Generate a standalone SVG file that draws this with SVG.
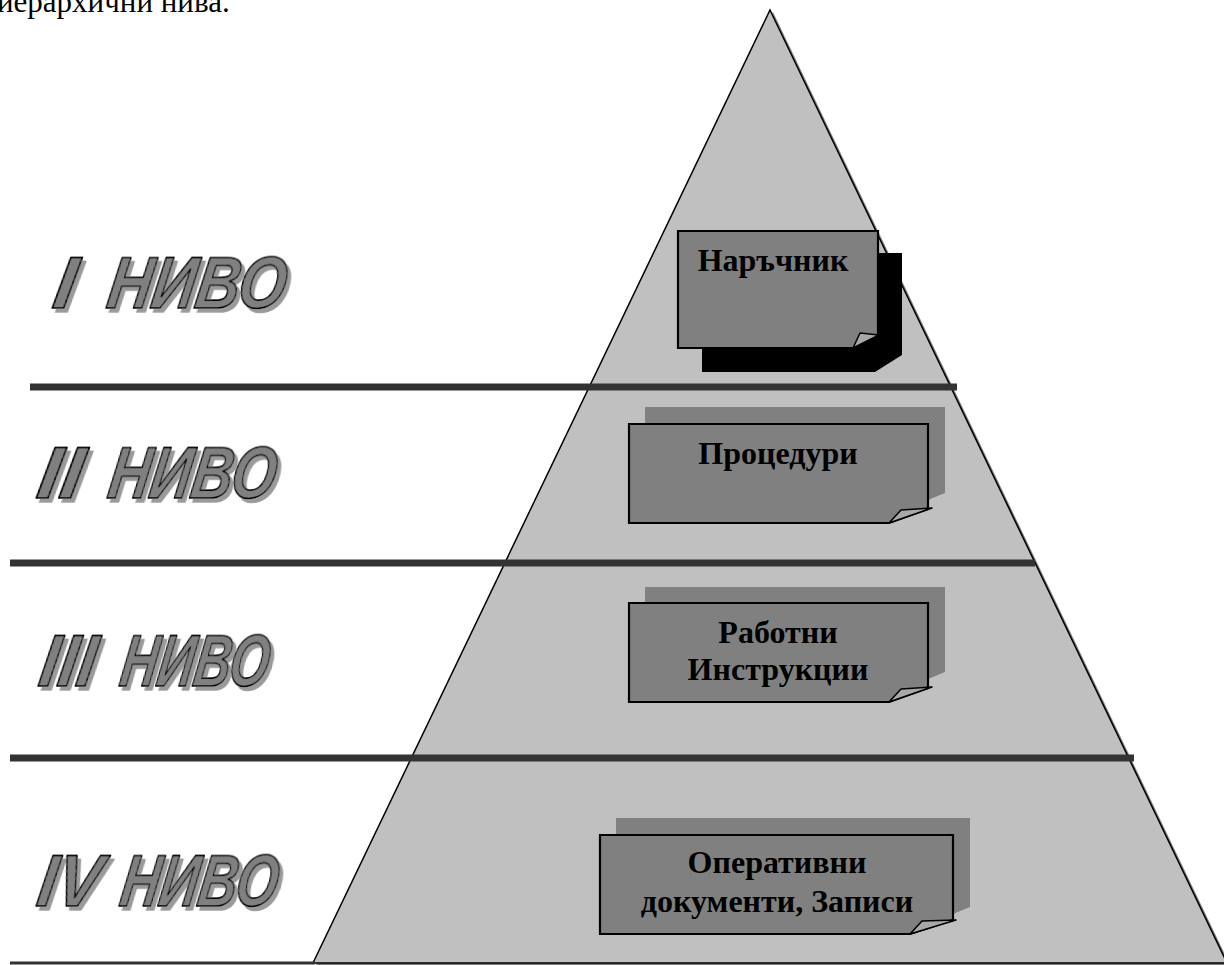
<svg xmlns="http://www.w3.org/2000/svg" width="1224" height="965" viewBox="0 0 1224 965">
<defs>
<filter id="tsh" x="-10%" y="-20%" width="130%" height="150%">
<feOffset in="SourceAlpha" dx="4" dy="4" result="o"/>
<feFlood flood-color="#9a9a9a"/>
<feComposite in2="o" operator="in" result="s"/>
<feMerge><feMergeNode in="s"/><feMergeNode in="SourceGraphic"/></feMerge>
</filter>
</defs>
<style>
.lvl{font-family:"Liberation Sans",Arial,sans-serif;font-weight:bold;font-style:italic;font-size:74px;fill:#808080;stroke:#000;stroke-width:1.7;stroke-linejoin:round;filter:url(#tsh)}
.bt{font-family:"Liberation Serif","Times New Roman",serif;font-weight:bold;font-size:32px;fill:#000;text-anchor:middle}
.box{fill:#808080;stroke:#000;stroke-width:2.2;stroke-linejoin:miter}
.sh{fill:#808080}
.fold{fill:#a8a8a8;stroke:#000;stroke-width:1.5;stroke-linejoin:round}
.bar{stroke:#333;stroke-width:7}
</style>
<rect width="1224" height="965" fill="#fff"/>
<text x="-3" y="12" font-family="'Liberation Serif','Times New Roman',serif" font-size="31" fill="#000">иерархични нива.</text>

<g id="pyramid">
<polygon points="773,12 1230,965 316,965" fill="#808080"/>
<polygon points="770,10 1227,963 313,963" fill="#c0c0c0" stroke="#000" stroke-width="1.5"/>
</g>

<g id="connectors">
<line class="bar" x1="30" y1="387" x2="957" y2="387"/>
<line class="bar" x1="10" y1="563" x2="1035" y2="563"/>
<line class="bar" x1="10" y1="758" x2="1134" y2="758"/>
<line x1="10" y1="963" x2="315" y2="963" stroke="#333" stroke-width="3"/>
</g>

<g id="level1" transform="translate(0,308) skewX(-9)">
<text class="lvl"><tspan x="51" y="0" textLength="22" lengthAdjust="spacingAndGlyphs">I</tspan><tspan x="105" y="0" textLength="178" lengthAdjust="spacingAndGlyphs">НИВО</tspan></text>
</g>
<g id="level2" transform="translate(0,498) skewX(-9)">
<text class="lvl"><tspan x="35" y="0" textLength="45" lengthAdjust="spacingAndGlyphs">II</tspan><tspan x="106" y="0" textLength="167" lengthAdjust="spacingAndGlyphs">НИВО</tspan></text>
</g>
<g id="level3" transform="translate(0,686) skewX(-9)">
<text class="lvl"><tspan x="37" y="0" textLength="56" lengthAdjust="spacingAndGlyphs">III</tspan><tspan x="118" y="0" textLength="148" lengthAdjust="spacingAndGlyphs">НИВО</tspan></text>
</g>
<g id="level4" transform="translate(0,906) skewX(-9)">
<text class="lvl"><tspan x="35" y="0" textLength="63" lengthAdjust="spacingAndGlyphs">IV</tspan><tspan x="118" y="0" textLength="157" lengthAdjust="spacingAndGlyphs">НИВО</tspan></text>
</g>

<g id="node-narachnik">
<polygon points="702,253 902,253 902,355 875,372 702,372" fill="#000"/>
<polygon class="box" points="678,231 878,231 878,336 853,348 678,348"/>
<path class="fold" d="M853,348 L860,333 L879,335 Z"/>
<text class="bt" x="773" y="271">Наръчник</text>
</g>

<g id="node-proceduri">
<polygon class="sh" points="645,407 945,407 945,493 928,500 645,500"/>
<polygon class="box" points="629,424 928,424 928,509 889,523 629,523"/>
<path class="fold" d="M889,523 L901,510 L932,508 Z"/>
<text class="bt" x="778" y="464">Процедури</text>
</g>

<g id="node-rabotni">
<polygon class="sh" points="645,587 945,587 945,672 928,679 645,679"/>
<polygon class="box" points="629,603 928,603 928,688 889,702 629,702"/>
<path class="fold" d="M889,702 L901,689 L932,687 Z"/>
<text class="bt" x="778" y="643">Работни</text>
<text class="bt" x="778" y="680">Инструкции</text>
</g>

<g id="node-operativni">
<polygon class="sh" points="616,818 970,818 970,907 953,914 616,914"/>
<polygon class="box" points="600,835 953,835 953,920 910,934 600,934"/>
<path class="fold" d="M910,934 L922,921 L956,920 Z"/>
<text class="bt" x="777" y="873">Оперативни</text>
<text class="bt" x="777" y="912">документи, Записи</text>
</g>
</svg>
